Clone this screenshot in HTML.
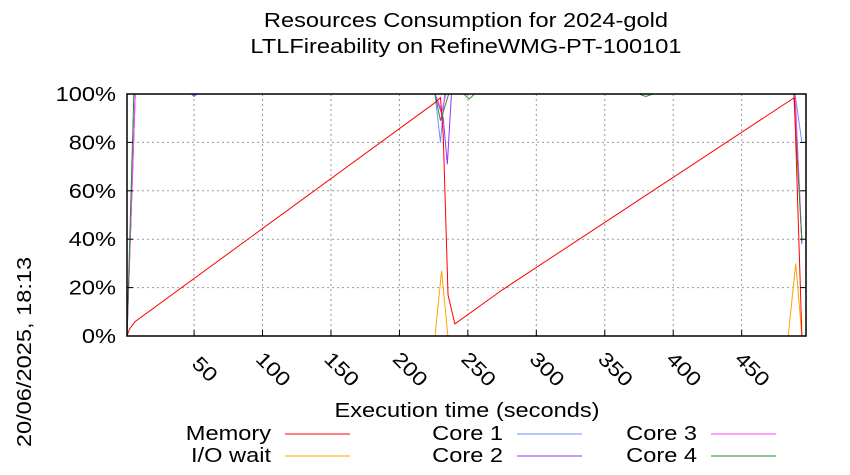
<!DOCTYPE html>
<html><head><meta charset="utf-8"><style>
body{margin:0;background:#fff;}
svg{display:block;font-family:"Liberation Sans",sans-serif;}
</style></head><body>
<svg id="c" width="850" height="475">
<text x="466" y="27" font-size="20" text-anchor="middle">Resources Consumption for 2024-gold</text>
<text x="466" y="53" font-size="20" text-anchor="middle">LTLFireability on RefineWMG-PT-100101</text>
<text x="467" y="417" font-size="20" text-anchor="middle">Execution time (seconds)</text>
<text transform="translate(31,352) rotate(-90)" font-size="20" text-anchor="middle">20/06/2025, 18:13</text>
<g id="grid"></g><g id="series"></g>
<rect x="127" y="94" width="679" height="242" fill="none" stroke="#000" stroke-width="1.5"/>
<g id="ticks"></g><g id="legend"></g>
</svg>
<script>
const xTicks=[50,100,150,200,250,300,350,400,450];
const yTicks=[0,20,40,60,80,100];
const memX=[1,3,7,225,230,232,235.5,240.5,275,488.5,494];
const memY=[0,3,6,96,98.5,83,17,5,19,98.5,0];
const ioX=[1,226,230.8,235.4,484,489.5,494];
const ioY=[0,0,27,0,0,30,0];
const c1X=[1,7,226,230,233,236,489,494];
const c1Y=[0,100,100,80,100,100,100,80];
const c2X=[1,7,48,50,52,226,232,235,238,489,494];
const c2Y=[0,100,100,99,100,100,90,71,100,100,38];
const c3X=[1,7,226,231,234,238,489,494];
const c3Y=[0,100,100,93,100,100,100,39];
const c4X=[1,6,226,230,236,247,251,255,375,380,385,488,494];
const c4Y=[0,100,100,89,100,100,98,100,100,99,100,100,39];
const X0=1,X1=497,PL=127,PR=806,PT=94,PB=336;
const sx=v=>PL+(v-X0)/(X1-X0)*(PR-PL);
const sy=v=>PB-v/100*(PB-PT);
const NS="http://www.w3.org/2000/svg";
function mk(t,a,p){const e=document.createElementNS(NS,t);for(const k in a)e.setAttribute(k,a[k]);p.appendChild(e);return e;}
const grid=document.getElementById('grid'),ticks=document.getElementById('ticks'),ser=document.getElementById('series'),leg=document.getElementById('legend');
xTicks.forEach(v=>{const x=sx(v);
 const g=mk('line',{x1:x,x2:x,y1:PT,y2:PB,stroke:'#999','stroke-dasharray':'2,3','stroke-width':1},grid);
 
 
 mk('line',{x1:x,x2:x,y1:PB,y2:PB-6,stroke:'#000'},ticks);
 const t=mk('text',{x:0,y:0,'font-size':20,'text-anchor':'middle',transform:`translate(${x+6},${PB+38}) rotate(45)`},ticks);
 t.textContent=v;
 
 
});
yTicks.forEach(v=>{const y=sy(v);
 if(v>0&&v<100){const g=mk('line',{x1:PL,x2:PR,y1:y,y2:y,stroke:'#999','stroke-dasharray':'2,3','stroke-width':1},grid);
 
 }
 mk('line',{x1:PL,x2:PL+6,y1:y,y2:y,stroke:'#000'},ticks);
 mk('line',{x1:PR,x2:PR-6,y1:y,y2:y,stroke:'#000'},ticks);
 const t=mk('text',{x:PL-11,y:y+7,'font-size':20,'text-anchor':'end'},ticks);
 t.textContent=v+'%';
 
 
});
const S=[["Core 1",c1X,c1Y,"#6f8fff"],["Core 2",c2X,c2Y,"#9933ff"],["Core 3",c3X,c3Y,"#ff44ff"],["Core 4",c4X,c4Y,"#2e8b2e"],["I/O wait",ioX,ioY,"#ffa500"],["Memory",memX,memY,"#ff0000"]];
S.forEach(([n,xs,ys,col])=>{
 const p=mk('polyline',{points:xs.map((x,i)=>sx(x)+','+sy(ys[i])).join(' '),fill:'none',stroke:col,'stroke-width':1},ser);
 
 
});
const L=[["Memory","#ff0000",271,440],["I/O wait","#ffa500",271,462],["Core 1","#6f8fff",503,440],["Core 2","#9933ff",503,462],["Core 3","#ff44ff",697,440],["Core 4","#2e8b2e",697,462]];
L.forEach(([n,col,x,y])=>{
 const t=mk('text',{x:x,y:y,'font-size':20,'text-anchor':'end'},leg);
 t.textContent=n;
 
 
 const l=mk('line',{x1:x+14,x2:x+79,y1:y-6,y2:y-6,stroke:col,'stroke-width':1},leg);
 
 
});
document.querySelectorAll('text').forEach(t=>{
 const w=t.getComputedTextLength();
 t.setAttribute('textLength',(w*1.18).toFixed(1));
 t.setAttribute('lengthAdjust','spacingAndGlyphs');
});
</script>
</body></html>
